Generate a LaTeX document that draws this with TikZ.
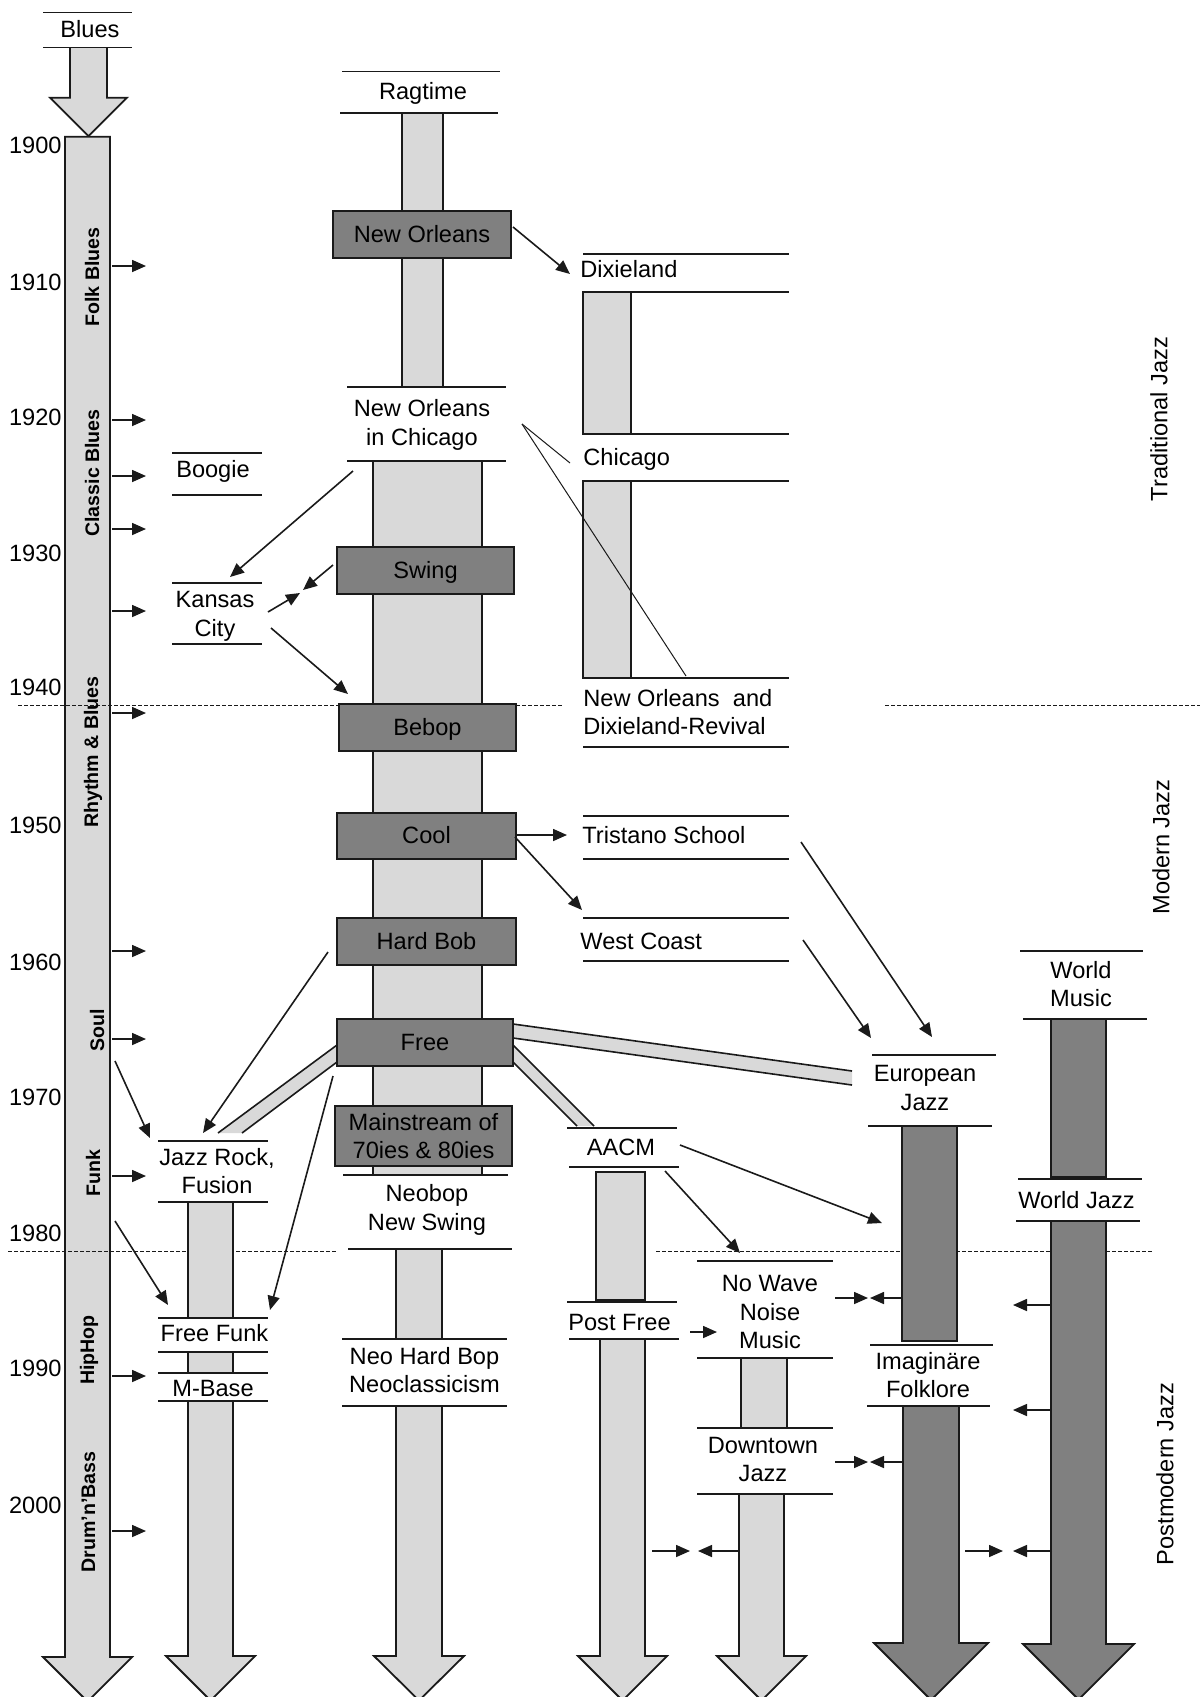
\documentclass[tikz,border=0pt]{standalone}
\usepackage{fontspec}
\setmainfont{Liberation Sans}
\usetikzlibrary{arrows.meta}
\definecolor{lg}{HTML}{D9D9D9}
\definecolor{dg}{HTML}{808080}
\definecolor{ln}{HTML}{1A1A1A}
\begin{document}
\begin{tikzpicture}[x=0.5pt,y=-0.5pt,
  jtxt/.style={font=\fontsize{11.8}{14.25}\selectfont, inner sep=0pt, align=center, text height=8.45pt, text depth=0pt},
  jtxtb/.style={jtxt, text height=22.7pt},
  jtxtc/.style={jtxt, text height=36.95pt},
  jtxtl/.style={jtxt, anchor=west, align=left},
  jtxtlb/.style={jtxtb, anchor=west, align=left},
  jyear/.style={jtxt, anchor=east},
  jblab/.style={font=\bfseries\fontsize{9.8}{11}\selectfont, inner sep=0pt, rotate=90, text height=7pt, text depth=0pt},
  jera/.style={font=\fontsize{11.8}{14}\selectfont, inner sep=0pt, rotate=90, text height=8.45pt, text depth=0pt},
  jrule/.style={draw=ln, line width=0.7pt},
  jbar/.style={draw=ln, line width=0.9pt, fill=lg},
  jdbar/.style={draw=ln, line width=0.9pt, fill=dg},
  jbox/.style={draw=ln, line width=1pt, fill=dg, inner sep=0pt, minimum width=88.5pt, minimum height=23.5pt,
    font=\fontsize{11.8}{14.25}\selectfont, align=center, text height=8.45pt, text depth=0pt},
  jconn/.style={draw=ln, line width=0.8pt, -{Triangle[length=7pt,width=6pt]}},
  jlink/.style={draw=ln, line width=0.5pt},
  jeraline/.style={draw=ln, line width=0.5pt, dash pattern=on 2pt off 1pt},
  jband/.style={fill=lg},
  jedge/.style={draw=ln, line width=0.8pt}
]
\useasboundingbox (0,0) rectangle (1200,1697);
\clip (0,0) rectangle (1200,1697);
\fill[white] (0,0) rectangle (1200,1697);

% ---------------- left column (Blues) ----------------
\draw[jbar] (70,47.7) -- (70,97.7) -- (50,97.7) -- (88.5,136.2) -- (127,97.7) -- (107,97.7) -- (107,47.7);
\draw[jbar] (65,136.7) -- (65,1657) -- (43,1657) -- (87.5,1701.5) -- (132,1657) -- (110,1657) -- (110,136.7) -- cycle;
\draw[jrule] (43,12.7) -- (132,12.7);
\draw[jrule] (43,47.7) -- (132,47.7);
\node[jtxt] (blues) at (90,28.7) {Blues};

% era separators
\draw[jeraline] (18,705) -- (563,705);
\draw[jeraline] (885,705) -- (1200,705);
\draw[jeraline] (8,1251) -- (336,1251);
\draw[jeraline] (656,1251) -- (1153,1251);

% years
\foreach \yr/\yy in {1900/145,1910/282,1920/417,1930/553,1940/687,1950/825,1960/962,1970/1097,1980/1233,1990/1368,2000/1505}
  \node[jyear] (y\yr) at (62,\yy) {\yr};

% blues sub-styles
\node[jblab] (folk) at (92,277) {Folk Blues};
\node[jblab] (classic) at (92,473) {Classic Blues};
\node[jblab] (rnb) at (91,752) {Rhythm \& Blues};
\node[jblab] (soul) at (97,1030) {Soul};
\node[jblab] (funk) at (93,1173) {Funk};
\node[jblab] (hiphop) at (87,1350) {HipHop};
\node[jblab] (dnb) at (88,1512) {Drum'n'Bass};

\foreach \i/\yy in {1/266,2/420,3/476,4/529,5/611,6/713,7/951,8/1039,9/1176,10/1376,11/1531}{
  \coordinate (la\i) at (112,\yy);
  \coordinate (lb\i) at (146,\yy);
  \draw[jconn] (la\i) -- (lb\i);
}

% ---------------- Boogie / Kansas City / Jazz Rock column ----------------
\draw[jrule] (172,453) -- (262,453);
\draw[jrule] (172,495) -- (262,495);
\node[jtxt] (boogie) at (213,469) {Boogie};
\draw[jrule] (172,583) -- (262,583);
\draw[jrule] (172,644) -- (262,644);
\node[jtxtb] (kansas) at (215,613.5) {Kansas\\City};

\draw[jbar] (188,1202) rectangle (233,1318);
\draw[jbar] (188,1352) rectangle (233,1373);
\draw[jbar] (188,1401) -- (188,1656) -- (166,1656) -- (210.5,1700.5) -- (255,1656) -- (233,1656) -- (233,1401);
\foreach \yy in {1141,1202,1318,1352,1373,1401} \draw[jrule] (158,\yy) -- (268,\yy);
\node[jtxtb] (jazzrock) at (217,1171) {Jazz Rock,\\Fusion};
\node[jtxt] (freefunk) at (214.5,1333.5) {Free Funk};
\node[jtxt] (mbase) at (213,1388) {M-Base};

% ---------------- central column ----------------
\draw[jbar] (402,113) rectangle (443,387);
\draw[jbar] (373,461) rectangle (482,1175);
\draw[jbar] (396,1249) rectangle (442,1339);
\draw[jbar] (396,1406) -- (396,1656) -- (374,1656) -- (419,1700.5) -- (464,1656) -- (442,1656) -- (442,1406);

\draw[jrule] (342,71.7) -- (500,71.7);
\draw[jrule] (340,113) -- (498,113);
\node[jtxt] (ragtime) at (423,91) {Ragtime};
\draw[jrule] (347,387) -- (506,387);
\draw[jrule] (347,461) -- (506,461);
\node[jtxtb] (noic) at (422,422.7) {New Orleans\\in Chicago};
\draw[jrule] (343,1175) -- (508,1175);
\draw[jrule] (348,1249) -- (512,1249);
\node[jtxtb] (neobop) at (427,1207.5) {Neobop\\New Swing};
\draw[jrule] (342,1339) -- (507,1339);
\draw[jrule] (342,1406) -- (507,1406);
\node[jtxtb] (neohb) at (424.5,1370) {Neo Hard Bop\\Neoclassicism};

% bands from Free
\fill[jband] (513,1024) -- (852,1071) -- (852,1085) -- (513,1038) -- cycle;
\draw[jedge] (513,1024) -- (852,1071);
\draw[jedge] (513,1038) -- (852,1085);
\fill[jband] (513,1045) -- (594,1126) -- (577,1126) -- (513,1062) -- cycle;
\draw[jedge] (513,1045) -- (594,1126);
\draw[jedge] (513,1062) -- (577,1126);
\fill[jband] (337,1045) -- (218,1133) -- (242,1133) -- (337,1062) -- cycle;
\draw[jedge] (337,1045) -- (218,1133);
\draw[jedge] (337,1062) -- (242,1133);

\node[jbox, minimum width=89pt] (neworleans) at (422,234.5) {New Orleans};
\node[jbox] (swing) at (425.5,570.5) {Swing};
\node[jbox] (bebop) at (427.5,727.5) {Bebop};
\node[jbox, minimum width=89.5pt, minimum height=23pt] (cool) at (426.5,835.5) {Cool};
\node[jbox, minimum width=89.5pt] (hardbob) at (426.5,941.5) {Hard Bob};
\node[jbox, minimum width=88pt] (free) at (425,1042.5) {Free};
\node[jbox, minimum height=30pt, text height=22.7pt] (mainstream) at (423.5,1136) {Mainstream of\\70ies \& 80ies};

% ---------------- Dixieland / Chicago column ----------------
\draw[jbar] (583,292) rectangle (631,434);
\draw[jbar] (583,481) rectangle (631,678);
\foreach \yy in {254,292,434,481,678,747,816,859,918,961} \draw[jrule] (583,\yy) -- (789,\yy);
\node[jtxtl] (dixie) at (580,269.5) {Dixieland};
\node[jtxtl] (chicago) at (583,456.7) {Chicago};
\node[jtxtlb] (revival) at (583,712) {New Orleans\ \ and\\Dixieland-Revival};
\node[jtxtl] (tristano) at (582,835) {Tristano School};
\node[jtxtl] (westcoast) at (580,941) {West Coast};

% ---------------- AACM / Post Free column ----------------
\draw[jbar] (596,1172) rectangle (645,1300);
\draw[jbar] (600,1339) -- (600,1656) -- (578,1656) -- (622.5,1700.5) -- (667,1656) -- (645,1656) -- (645,1339);
\draw[jrule] (567,1128) -- (677,1128);
\draw[jrule] (569,1167) -- (679,1167);
\draw[jrule] (567,1302) -- (677,1302);
\draw[jrule] (569,1339) -- (679,1339);
\node[jtxt] (aacm) at (621,1147.5) {AACM};
\node[jtxt] (postfree) at (619.5,1322.5) {Post Free};

% ---------------- No Wave / Downtown column ----------------
\draw[jbar] (741,1358) rectangle (787,1428);
\draw[jbar] (739,1494) -- (739,1656) -- (717,1656) -- (761.5,1700.5) -- (806,1656) -- (784,1656) -- (784,1494);
\foreach \yy in {1261,1358,1428,1494} \draw[jrule] (697,\yy) -- (833,\yy);
\node[jtxtc] (nowave) at (770,1312) {No Wave\\Noise\\Music};
\node[jtxtb] (downtown) at (763,1459) {Downtown\\Jazz};

% ---------------- European Jazz column ----------------
\draw[jdbar] (902,1126) rectangle (957,1341);
\draw[jdbar] (903,1406) -- (903,1643) -- (874,1643) -- (931,1700) -- (988,1643) -- (959,1643) -- (959,1406);
\draw[jrule] (872,1055) -- (996,1055);
\draw[jrule] (868,1126) -- (992,1126);
\draw[jrule] (870,1345) -- (993,1345);
\draw[jrule] (867,1406) -- (990,1406);
\node[jtxtb] (european) at (925,1087.5) {European\\Jazz};
\node[jtxtb] (imaginaere) at (928,1375) {Imaginäre\\Folklore};

% ---------------- World column ----------------
\draw[jdbar] (1051,1019) rectangle (1106,1177);
\draw[jdbar] (1051,1221) -- (1051,1644) -- (1023,1644) -- (1078.5,1699.5) -- (1134,1644) -- (1106,1644) -- (1106,1221);
\draw[jrule] (1020,951) -- (1143,951);
\draw[jrule] (1023,1019) -- (1147,1019);
\draw[jrule] (1018,1179) -- (1142,1179);
\draw[jrule] (1016,1221) -- (1140,1221);
\node[jtxtb] (worldmusic) at (1081,984) {World\\Music};
\node[jtxt] (worldjazz) at (1076.5,1200) {World Jazz};

% ---------------- era labels ----------------
\node[jera] (trad) at (1159,419) {Traditional Jazz};
\node[jera] (modern) at (1161,847) {Modern Jazz};
\node[jera] (postmodern) at (1165,1474) {Postmodern Jazz};

% ---------------- connectors ----------------
\coordinate (c1a) at (513,227);  \coordinate (c1b) at (570,274);
\draw[jconn] (c1a) -- (c1b);
\coordinate (c2a) at (353,471);  \coordinate (c2b) at (230,577);
\draw[jconn] (c2a) -- (c2b);
\coordinate (c3a) at (268,612);  \coordinate (c3b) at (300,593);
\draw[jconn] (c3a) -- (c3b);
\coordinate (c4a) at (333,565);  \coordinate (c4b) at (303,590);
\draw[jconn] (c4a) -- (c4b);
\coordinate (c5a) at (271,628);  \coordinate (c5b) at (348,694);
\draw[jconn] (c5a) -- (c5b);
\coordinate (c6a) at (515,835);  \coordinate (c6b) at (567,835);
\draw[jconn] (c6a) -- (c6b);
\coordinate (c7a) at (515,837);  \coordinate (c7b) at (582,910);
\draw[jconn] (c7a) -- (c7b);
\coordinate (c8a) at (328,952);  \coordinate (c8b) at (203,1133);
\draw[jconn] (c8a) -- (c8b);
\coordinate (c9a) at (333,1076); \coordinate (c9b) at (270,1310);
\draw[jconn] (c9a) -- (c9b);
\coordinate (c10a) at (801,842); \coordinate (c10b) at (932,1037);
\draw[jconn] (c10a) -- (c10b);
\coordinate (c11a) at (803,940); \coordinate (c11b) at (871,1038);
\draw[jconn] (c11a) -- (c11b);
\coordinate (c12a) at (665,1171); \coordinate (c12b) at (740,1253);
\draw[jconn] (c12a) -- (c12b);
\coordinate (c13a) at (680,1145); \coordinate (c13b) at (882,1223);
\draw[jconn] (c13a) -- (c13b);
\coordinate (c14a) at (690,1332); \coordinate (c14b) at (717,1332);
\draw[jconn] (c14a) -- (c14b);
\coordinate (c15a) at (115,1061); \coordinate (c15b) at (150,1138);
\draw[jconn] (c15a) -- (c15b);
\coordinate (c16a) at (115,1221); \coordinate (c16b) at (168,1305);
\draw[jconn] (c16a) -- (c16b);
% paired arrows
\coordinate (p1a) at (652,1551); \coordinate (p1b) at (690,1551);
\coordinate (p1c) at (738,1551); \coordinate (p1d) at (698,1551);
\draw[jconn] (p1a) -- (p1b); \draw[jconn] (p1c) -- (p1d);
\coordinate (p2a) at (835,1298); \coordinate (p2b) at (868,1298);
\coordinate (p2c) at (902,1298); \coordinate (p2d) at (870,1298);
\draw[jconn] (p2a) -- (p2b); \draw[jconn] (p2c) -- (p2d);
\coordinate (p3a) at (835,1462); \coordinate (p3b) at (868,1462);
\coordinate (p3c) at (902,1462); \coordinate (p3d) at (870,1462);
\draw[jconn] (p3a) -- (p3b); \draw[jconn] (p3c) -- (p3d);
\coordinate (p4a) at (965,1551); \coordinate (p4b) at (1003,1551);
\coordinate (p4c) at (1052,1551); \coordinate (p4d) at (1013,1551);
\draw[jconn] (p4a) -- (p4b); \draw[jconn] (p4c) -- (p4d);
\coordinate (w1a) at (1050,1305); \coordinate (w1b) at (1013,1305);
\draw[jconn] (w1a) -- (w1b);
\coordinate (w2a) at (1050,1410); \coordinate (w2b) at (1013,1410);
\draw[jconn] (w2a) -- (w2b);

% thin links New Orleans in Chicago
\coordinate (v0) at (522,424);
\coordinate (v1) at (570,463);
\coordinate (v2) at (686,676);
\draw[jlink] (v0) -- (v1);
\draw[jlink] (v0) -- (v2);
\end{tikzpicture}
\end{document}
